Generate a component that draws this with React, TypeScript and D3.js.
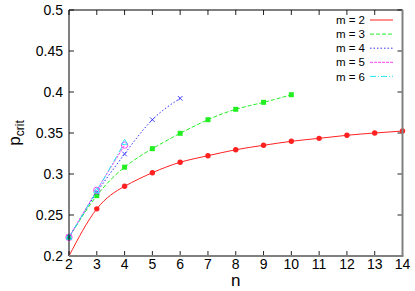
import React from "react";
import * as d3 from "d3";

const W = 415;
const H = 291;

const xTicks = [2, 3, 4, 5, 6, 7, 8, 9, 10, 11, 12, 13, 14];
const yTicks = [0.2, 0.25, 0.3, 0.35, 0.4, 0.45, 0.5];
const yTickLabels = ["0.2", "0.25", "0.3", "0.35", "0.4", "0.45", "0.5"];

const n2 = [2, 3, 4, 5, 6, 7, 8, 9, 10, 11, 12, 13, 14];
const p2 = [0.2, 0.2575, 0.285, 0.3016, 0.3143, 0.3223, 0.3296, 0.335, 0.3399, 0.3435, 0.3472, 0.35, 0.3524];
const n3 = [2, 3, 4, 5, 6, 7, 8, 9, 10];
const p3 = [0.2228, 0.2736, 0.3083, 0.3309, 0.3496, 0.3662, 0.3789, 0.3874, 0.3967];
const n4 = [2, 3, 4, 5, 6];
const p4 = [0.2228, 0.2775, 0.3244, 0.3662, 0.3923];
const n5 = [2, 3, 4];
const p5 = [0.2228, 0.2801, 0.3352];
const n6 = [2, 3, 4];
const p6 = [0.2228, 0.2795, 0.3385];

const seriesNames = ["m = 2", "m = 3", "m = 4", "m = 5", "m = 6"];
const seriesColors = ["#ff2020", "#22ee22", "#3030ff", "#ff40ff", "#20e8f0"];
const seriesDash = ["", "4,2", "1.5,2", "3,1", "6,2,1,2"];
const seriesMarker = ["fcircle", "fsquare", "cross", "ocircle", "otriangle"];

const seriesN = [n2, n3, n4, n5, n6];
const seriesP = [p2, p3, p4, p5, p6];

const LEFT = 69;
const RIGHT = 402.5;
const TOP = 10;
const BOTTOM = 256;

const font = "'Liberation Sans', Arial, Helvetica, sans-serif";

function Marker({ kind, x, y, color }: { kind: string; x: number; y: number; color: string }) {
  if (kind === "fcircle") return <circle cx={x} cy={y} r={2.7} fill={color} />;
  if (kind === "fsquare") return <rect x={x - 2.5} y={y - 2.5} width={5} height={5} fill={color} />;
  if (kind === "cross")
    return (
      <path
        d={`M${x - 2.3},${y - 2.3}L${x + 2.3},${y + 2.3}M${x - 2.3},${y + 2.3}L${x + 2.3},${y - 2.3}`}
        stroke={color}
        strokeWidth={0.9}
        fill="none"
      />
    );
  if (kind === "ocircle") return <circle cx={x} cy={y} r={3.2} fill="none" stroke={color} strokeWidth={1} />;
  return (
    <path
      d={`M${x},${y - 3.2}L${x + 2.9},${y + 1.9}L${x - 2.9},${y + 1.9}Z`}
      fill="none"
      stroke={color}
      strokeWidth={0.9}
    />
  );
}

export default function App() {
  const x = d3.scaleLinear().domain([2, 14]).range([LEFT, RIGHT]);
  const y = d3.scaleLinear().domain([0.2, 0.5]).range([BOTTOM, TOP]);
  const line = d3
    .line<[number, number]>()
    .x((d) => x(d[0]))
    .y((d) => y(d[1]))
    .curve(d3.curveNatural);

  const legendX1 = 370;
  const legendX2 = 393;
  const legendY0 = 20;
  const legendStep = 14.1;

  return (
    <svg
      width={W}
      height={H}
      style={{ position: "absolute", left: 0, top: 0, background: "#fff" }}
      fontFamily={font}
    >
      <rect x={0} y={0} width={W} height={H} fill="#fff" />
      <defs>
        <clipPath id="plotclip">
          <rect x={LEFT} y={TOP} width={RIGHT - LEFT} height={BOTTOM - TOP} />
        </clipPath>
      </defs>

      {/* ticks */}
      {xTicks.map((t) => (
        <g key={"xt" + t}>
          <line x1={x(t)} x2={x(t)} y1={BOTTOM} y2={BOTTOM - 5} stroke="#222" strokeWidth={1} />
          <line x1={x(t)} x2={x(t)} y1={TOP} y2={TOP + 5} stroke="#222" strokeWidth={1} />
          <text x={x(t)} y={269} fontSize={14} textAnchor="middle" fill="#000">
            {t}
          </text>
        </g>
      ))}
      {yTicks.map((t, i) => (
        <g key={"yt" + t}>
          <line x1={LEFT} x2={LEFT + 5} y1={y(t)} y2={y(t)} stroke="#222" strokeWidth={1} />
          <line x1={RIGHT} x2={RIGHT - 5} y1={y(t)} y2={y(t)} stroke="#222" strokeWidth={1} />
          <text x={63} y={y(t)} dy="0.36em" fontSize={14} textAnchor="end" fill="#000">
            {yTickLabels[i]}
          </text>
        </g>
      ))}

      {/* series */}
      <g clipPath="url(#plotclip)">
        {seriesN.map((ns, si) => {
          const pts: [number, number][] = ns.map((n, i) => [n, seriesP[si][i]]);
          return (
            <path
              key={"l" + si}
              d={line(pts) || ""}
              fill="none"
              stroke={seriesColors[si]}
              strokeWidth={1}
              strokeDasharray={seriesDash[si] || undefined}
            />
          );
        })}
      </g>
      {seriesN.map((ns, si) => (
        <g key={"m" + si}>
          {ns.map((n, i) =>
            seriesP[si][i] > y.domain()[0] ? (
              <Marker key={i} kind={seriesMarker[si]} x={x(n)} y={y(seriesP[si][i])} color={seriesColors[si]} />
            ) : null
          )}
        </g>
      ))}

      {/* frame */}
      <line x1={LEFT} x2={RIGHT} y1={TOP} y2={TOP} stroke="#000" strokeWidth={1} />
      <line x1={LEFT} x2={LEFT} y1={TOP} y2={BOTTOM} stroke="#000" strokeWidth={1} />
      <line x1={LEFT} x2={RIGHT + 1} y1={BOTTOM} y2={BOTTOM} stroke="#808080" strokeWidth={2} />
      <line x1={RIGHT} x2={RIGHT} y1={TOP} y2={BOTTOM} stroke="#808080" strokeWidth={2} />

      {/* legend */}
      {seriesNames.map((name, i) => {
        const ly = legendY0 + i * legendStep;
        return (
          <g key={"lg" + i}>
            <text x={365} y={ly} dy="0.36em" fontSize={11.5} textAnchor="end" fill="#000">
              {name}
            </text>
            <line
              x1={legendX1}
              x2={legendX2}
              y1={ly}
              y2={ly}
              stroke={seriesColors[i]}
              strokeWidth={1}
              strokeDasharray={seriesDash[i] || undefined}
            />
          </g>
        );
      })}

      {/* axis labels */}
      <text x={(LEFT + RIGHT) / 2} y={286} fontSize={17} textAnchor="middle" fill="#000">
        n
      </text>
      <text transform={`translate(20,133) rotate(-90)`} textAnchor="middle" fill="#000" fontSize={17}>
        p
        <tspan fontSize={12} dy={4}>
          crit
        </tspan>
      </text>
    </svg>
  );
}
